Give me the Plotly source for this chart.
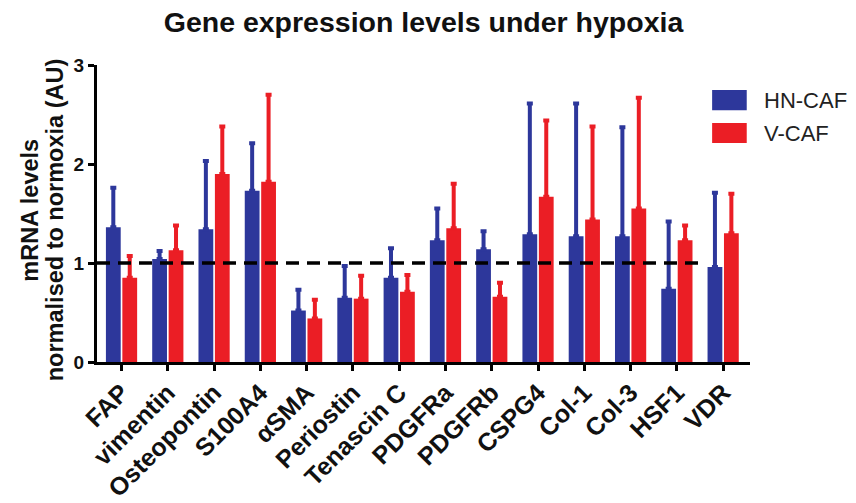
import plotly.graph_objects as go

genes = ["FAP", "vimentin", "Osteopontin", "S100A4", "\u03b1SMA", "Periostin",
         "Tenascin C", "PDGFRa", "PDGFRb", "CSPG4", "Col-1", "Col-3", "HSF1", "VDR"]

hn_caf_mean = [1.36, 1.04, 1.34, 1.73, 0.52, 0.65, 0.85, 1.23, 1.14, 1.29, 1.27, 1.27, 0.74, 0.96]
hn_caf_upper = [1.76, 1.12, 2.03, 2.21, 0.73, 0.97, 1.15, 1.55, 1.32, 2.61, 2.61, 2.37, 1.42, 1.71]

v_caf_mean = [0.85, 1.13, 1.90, 1.82, 0.44, 0.64, 0.71, 1.35, 0.66, 1.67, 1.44, 1.55, 1.23, 1.30]
v_caf_upper = [1.07, 1.38, 2.38, 2.70, 0.63, 0.87, 0.88, 1.80, 0.80, 2.44, 2.38, 2.67, 1.38, 1.70]

series_names = ["HN-CAF", "V-CAF"]
colors = ["#2D379B", "#EB1E25"]
y_ticks = [0, 1, 2, 3]
baseline = 1
y_title_lines = ["mRNA levels", "normalised to normoxia (AU)"]

x_idx = list(range(len(genes)))
FONT = "Liberation Sans, Arial, sans-serif"

fig = go.Figure()
for name, mean, upper, col in [(series_names[0], hn_caf_mean, hn_caf_upper, colors[0]),
                               (series_names[1], v_caf_mean, v_caf_upper, colors[1])]:
    fig.add_trace(go.Bar(
        x=x_idx, y=mean, name=name, marker=dict(color=col, line=dict(width=0)),
        error_y=dict(type="data", symmetric=False,
                     array=[u - m for u, m in zip(upper, mean)],
                     arrayminus=[0] * len(mean),
                     color=col, thickness=4, width=3),
        showlegend=False,
    ))

# dashed reference line at normoxia level
fig.add_shape(type="line", xref="x", yref="y", x0=-0.53, x1=12.6, y0=baseline, y1=baseline,
              line=dict(color="black", width=3.5, dash="13px,8px"), layer="above")

# legend (swatches + labels)
leg_font = dict(family=FONT, size=22, color="#222")
for i, (name, col) in enumerate(zip(series_names, colors)):
    y_top = 0.916 - i * 0.111
    fig.add_shape(type="rect", xref="paper", yref="paper", x0=0.942, x1=0.995,
                  y0=y_top - 0.068, y1=y_top, fillcolor=col, line=dict(width=0))
    fig.add_annotation(xref="paper", yref="paper", x=1.018, y=y_top - 0.034,
                       text=name, showarrow=False, xanchor="left", yanchor="middle",
                       font=leg_font)

# two-line y-axis title (tight line spacing)
for txt, xp, yp in [(y_title_lines[0], -0.103, 0.512), (y_title_lines[1], -0.064, 0.478)]:
    fig.add_annotation(xref="paper", yref="paper", x=xp, y=yp, text=f"<b>{txt}</b>",
                       textangle=-90, showarrow=False, xanchor="center", yanchor="middle",
                       font=dict(family=FONT, size=23.5, color="#111"))

fig.update_layout(
    width=856, height=503,
    margin=dict(l=97, r=106, t=65, b=141),
    plot_bgcolor="white", paper_bgcolor="white",
    barmode="group", bargap=0.29, bargroupgap=0.1,
    title=dict(text="<b>Gene expression levels under hypoxia</b>",
               x=423.5 / 856, xanchor="center",
               y=1 - 22 / 503, yanchor="middle", yref="container",
               font=dict(family=FONT, size=28.5, color="#111")),
    font=dict(family=FONT, color="#111"),
    xaxis=dict(
        range=[-0.53, 13.58], tickmode="array", tickvals=x_idx,
        ticktext=[f"<b>{g}</b>" for g in genes], tickangle=-45,
        tickfont=dict(size=25, color="#111"),
        showline=True, linecolor="black", linewidth=3,
        ticks="outside", ticklen=6, tickwidth=2.5, tickcolor="black",
        showgrid=False, zeroline=False, automargin=False, ticklabelstandoff=-3,
    ),
    yaxis=dict(
        range=[0, 3], tickmode="array", tickvals=y_ticks,
        ticktext=[f"<b>{t}</b>" for t in y_ticks],
        tickfont=dict(size=19, color="#111"),
        showline=True, linecolor="black", linewidth=3,
        ticks="outside", ticklen=6, tickwidth=2.5, tickcolor="black",
        showgrid=False, zeroline=False, automargin=False,
    ),
)

fig.write_html("out.html", config={"displayModeBar": False},
               post_script="document.body.style.margin='0px';")
